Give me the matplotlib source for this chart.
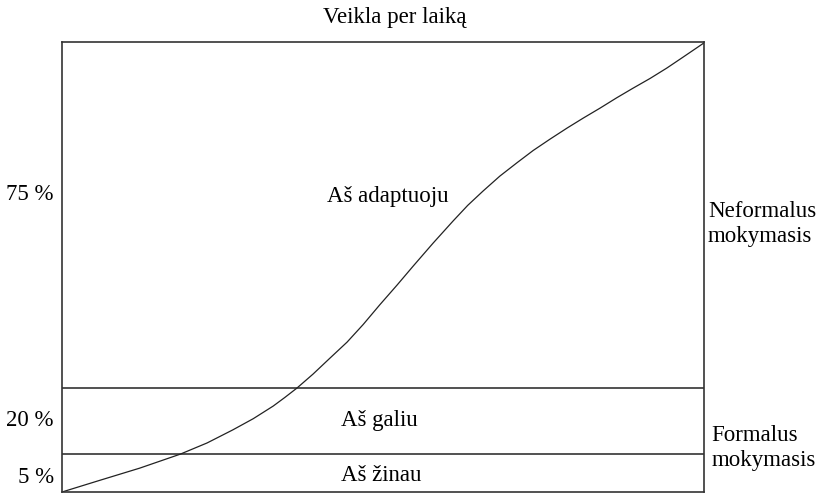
import matplotlib
matplotlib.use("Agg")
import matplotlib.pyplot as plt

# S-curve: activity over time (axis 0..100)
curve_x = [0, 5.9, 12.1, 18.4, 22.6, 26.6, 29.8, 32.9, 34.7, 36.6, 39.1,
           41.7, 44.4, 46.9, 49.5, 52.2, 54.7, 57.8, 60.9, 63.2, 65.6,
           68.2, 70.9, 73.4, 76.0, 78.7, 81.2, 83.8, 86.4, 88.9, 91.6,
           94.2, 96.7, 100]
curve_y = [0, 2.6, 5.3, 8.4, 10.9, 13.8, 16.3, 19.1, 21.0, 23.1, 26.2,
           29.7, 33.3, 37.2, 41.6, 46.0, 50.2, 55.3, 60.2, 63.7, 66.9,
           70.2, 73.2, 75.9, 78.4, 80.9, 83.1, 85.3, 87.6, 89.7, 91.9,
           94.2, 96.6, 99.8]

band_lines = [8.4, 23.1]
band_labels = ["Aš žinau", "Aš galiu", "Aš adaptuoju"]
band_label_pos = [(49.8, 3.6), (49.4, 15.8), (50.8, 65.6)]
pct_labels = ["5 %", "20 %", "75 %"]
pct_label_y = [3.3, 15.8, 66.0]
side_labels = ["Formalus\nmokymasis", "Neformalus\nmokymasis"]
side_label_x = [101.2, 100.6]
side_label_y = [9.8, 59.6]
title = "Veikla per laiką"

W, H = 823, 493
plt.rcParams["font.family"] = ["Liberation Serif", "DejaVu Serif"]
fig = plt.figure(figsize=(W / 100, H / 100), dpi=100)
ax = fig.add_axes([62 / W, 1 / H, 642 / W, 450 / H])
ax.set_xlim(0, 100)
ax.set_ylim(0, 100)
ax.set_xticks([])
ax.set_yticks([])
for s in ax.spines.values():
    s.set_linewidth(1.2)
    s.set_color("#333333")

for yv in band_lines:
    ax.axhline(yv, color="#333333", lw=1.2)
ax.plot(curve_x, curve_y, color="#222222", lw=0.9)

fs = 16.5
for lab, (x, y) in zip(band_labels, band_label_pos):
    ax.text(x, y, lab, ha="center", va="center", fontsize=fs)
for lab, y in zip(pct_labels, pct_label_y):
    ax.text(-1.3, y, lab, ha="right", va="center", fontsize=fs)
for lab, x, y in zip(side_labels, side_label_x, side_label_y):
    ax.text(x, y, lab, ha="left", va="center", fontsize=fs, linespacing=1.25)

fig.text(395 / W, 1 - 17 / H, title, ha="center", va="center", fontsize=fs)

fig.savefig("out.png", dpi=100)
